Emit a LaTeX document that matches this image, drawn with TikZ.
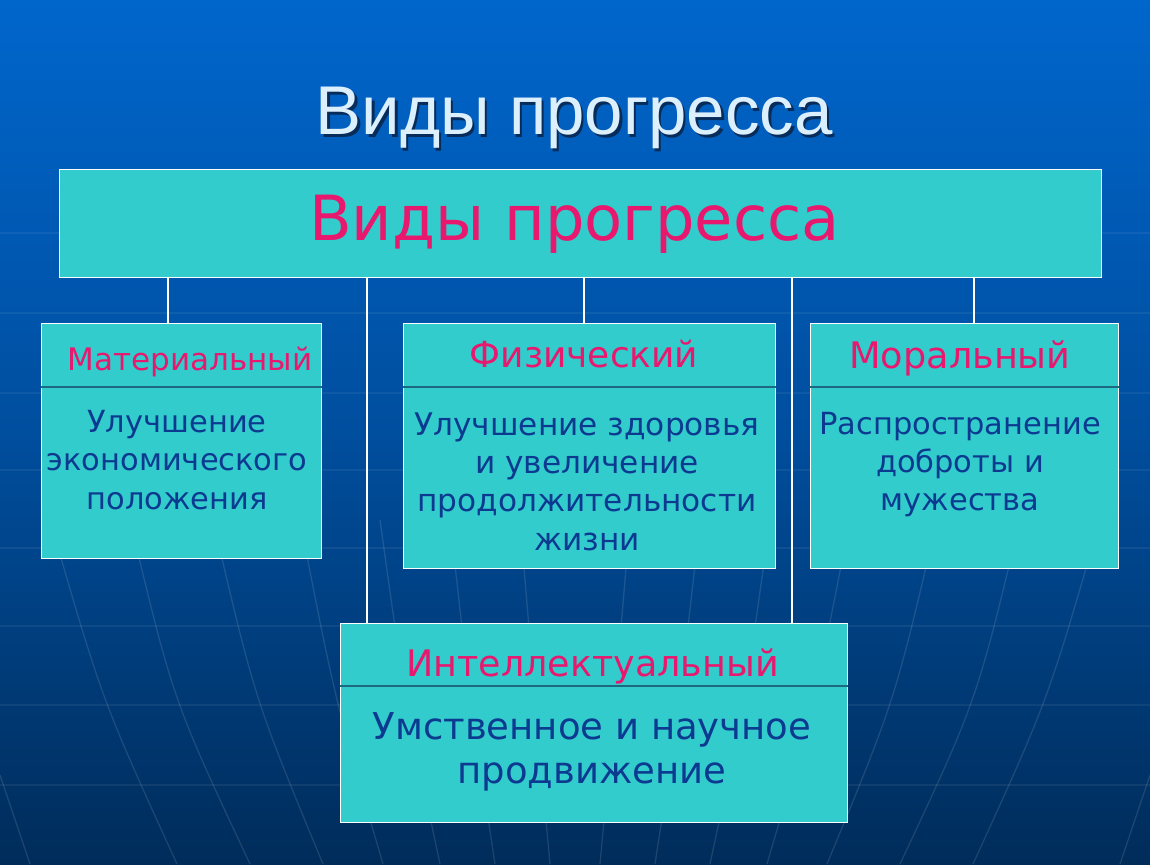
\documentclass[tikz,border=0pt]{standalone}
\usepackage{fontspec}
\setmainfont{DejaVu Sans}
\newfontfamily\titlefont{Liberation Sans}
\definecolor{turq}{HTML}{33CCCC}
\definecolor{pinkh}{HTML}{E8186E}
\definecolor{bodyblue}{HTML}{0C3A90}
\definecolor{titlecol}{HTML}{DCEFFD}
\definecolor{titleshadowcol}{HTML}{0A2448}
\definecolor{bgtop}{HTML}{0066CC}
\definecolor{bgmid}{HTML}{004E9E}
\definecolor{bgbot}{HTML}{002C5A}
\definecolor{divcol}{HTML}{1D6A80}
\begin{document}
\begin{tikzpicture}[x=1pt,y=-1pt,
  box/.style={draw=white, line width=1.4pt, fill=turq, inner sep=0pt, anchor=north west},
  conn/.style={draw=white, line width=1.4pt},
  divider/.style={draw=divcol, line width=1.1pt},
  head/.style={text=pinkh, anchor=base, inner sep=0pt},
  body/.style={text=bodyblue, align=center, inner sep=0pt},
  gridline/.style={white, opacity=0.06, line width=1.3pt},
  meridian/.style={white, opacity=0.11, line width=1.3pt}]
% background
\useasboundingbox (0,0) rectangle (1150,864);
\shade[top color=bgtop, bottom color=bgbot, middle color=bgmid] (0,0) rectangle (1150,864);
\foreach \yy in {233,313,393,470,548,626,705,785}
  \draw[gridline] (0,\yy) -- (1150,\yy);
\foreach \xa/\xb/\xe in {70/112/177,150/183/250,233/265/323,320/345/383,400/415/440,470/480/495,540/545/550}{
  \draw[meridian] (\xa-20,520) .. controls (\xb-10,700) .. (\xe,864);
  \draw[meridian] (1150-\xa+20,520) .. controls (1150-\xb+10,700) .. (1150-\xe,864);
}
\draw[meridian] (0,775) -- (30,864);
\draw[meridian] (1150,775) -- (1120,864);

% title with shadow
\node[anchor=base, inner sep=0pt, text=titleshadowcol, opacity=0.85, font=\titlefont\fontsize{69}{80}\selectfont] (titlesh) at (576.5,137.5) {Виды прогресса};
\node[anchor=base, inner sep=0pt, text=titlecol, font=\titlefont\fontsize{69}{80}\selectfont] (title) at (574,135) {Виды прогресса};

% boxes
\node[box, minimum width=1042pt, minimum height=108pt] (top) at (59,169) {};
\node[box, minimum width=280pt, minimum height=235pt] (mat) at (41,323) {};
\node[box, minimum width=372pt, minimum height=245pt] (phys) at (403,323) {};
\node[box, minimum width=308pt, minimum height=245pt] (moral) at (810,323) {};
\node[box, minimum width=507pt, minimum height=199pt] (int) at (340,623) {};

% connectors
\coordinate (c1) at (168,0);
\coordinate (c2) at (367,0);
\coordinate (c3) at (584,0);
\coordinate (c4) at (792,0);
\coordinate (c5) at (974,0);
\draw[conn] (top.south -| c1) -- (mat.north -| c1);
\draw[conn] (top.south -| c2) -- (int.north -| c2);
\draw[conn] (top.south -| c3) -- (phys.north -| c3);
\draw[conn] (top.south -| c4) -- (int.north -| c4);
\draw[conn] (top.south -| c5) -- (moral.north -| c5);

% dividers
\coordinate (d1) at (0,387);
\coordinate (d2) at (0,686);
\draw[divider] (mat.west |- d1) -- (mat.east |- d1);
\draw[divider] (phys.west |- d1) -- (phys.east |- d1);
\draw[divider] (moral.west |- d1) -- (moral.east |- d1);
\draw[divider] (int.west |- d2) -- (int.east |- d2);

% texts
\node[head, font=\fontsize{62.3}{70}\selectfont] (toptext) at (574.5,240) {Виды прогресса};
\node[head, font=\fontsize{31}{36}\selectfont] (math) at (190,370) {Материальный};
\node[head, font=\fontsize{36}{42}\selectfont] (physh) at (584,367) {Физический};
\node[head, font=\fontsize{36.6}{42}\selectfont] (moralh) at (960,368) {Моральный};
\node[head, font=\fontsize{36.5}{42}\selectfont] (inth) at (592.5,676) {Интеллектуальный};

\node[body, font=\fontsize{30.5}{38.5}\selectfont] (matb) at (177,460) {Улучшение\\экономического\\положения};
\node[body, font=\fontsize{31.2}{38.3}\selectfont] (physb) at (587,481.5) {Улучшение здоровья\\и увеличение\\продолжительности\\жизни};
\node[body, font=\fontsize{30.5}{38}\selectfont] (moralb) at (960,465) {Распространение\\доброты и\\мужества};
\node[body, font=\fontsize{37}{44.5}\selectfont] (intb) at (592,752) {Умственное и научное\\продвижение};
\end{tikzpicture}
\end{document}
